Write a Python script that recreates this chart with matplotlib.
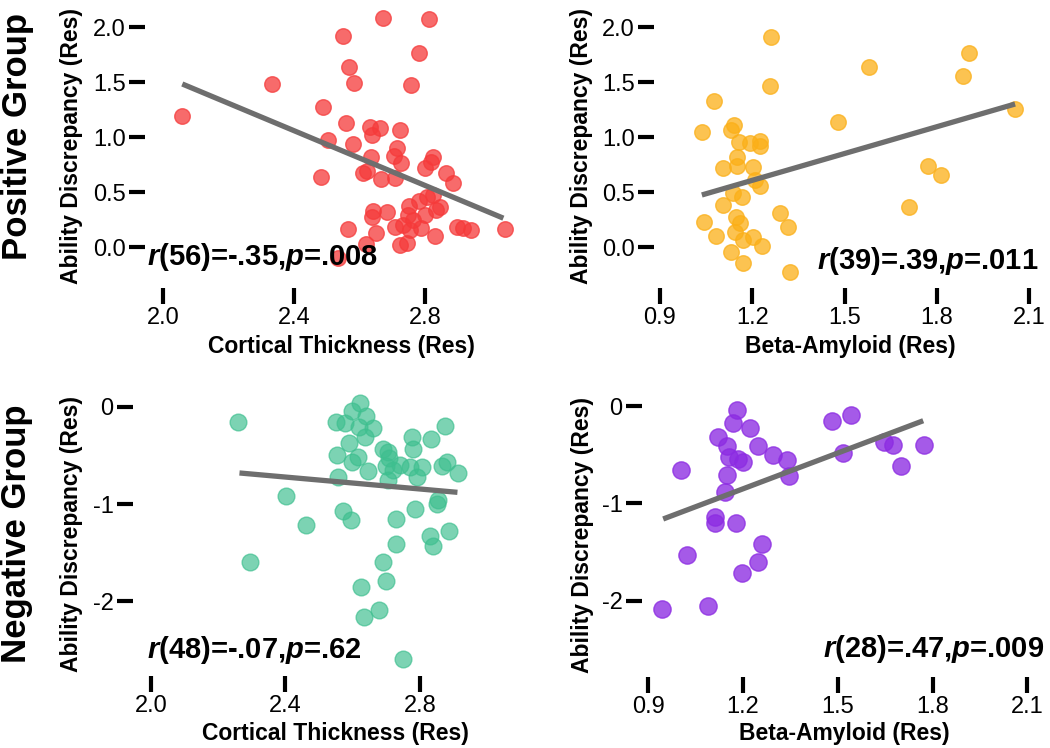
import numpy as np
import matplotlib
matplotlib.use("Agg")
import matplotlib.pyplot as plt

plt.rcParams['font.family'] = ['Liberation Sans', 'DejaVu Sans']
plt.rcParams['axes.unicode_minus'] = False
plt.rcParams['mathtext.fontset'] = 'custom'
plt.rcParams['mathtext.it'] = 'Liberation Sans:italic:bold'
plt.rcParams['mathtext.rm'] = 'Liberation Sans:bold'
plt.rcParams['mathtext.bf'] = 'Liberation Sans:bold'

# ---------------- data ----------------
# Positive group, cortical thickness
pos_ct_x = [2.056, 2.331, 2.550, 2.673, 2.813, 2.568, 2.584, 2.783, 2.758, 2.487,
            2.560, 2.505, 2.579, 2.481, 2.566, 2.534, 2.620, 2.632, 2.663, 2.637,
            2.724, 2.716, 2.634, 2.706, 2.727, 2.824, 2.819, 2.800, 2.865, 2.885,
            2.622, 2.612, 2.665, 2.709, 2.824, 2.806, 2.783, 2.752, 2.846, 2.834,
            2.800, 2.640, 2.685, 2.637, 2.749, 2.765, 2.897, 2.917, 2.940, 2.650,
            2.709, 2.734, 2.754, 2.787, 2.831, 2.724, 2.744, 3.045]
pos_ct_y = [1.194, 1.482, 1.921, 2.079, 2.070, 1.639, 1.488, 1.761, 1.473, 1.270,
            1.125, 0.973, 0.935, 0.636, 0.162, -0.100, 0.023, 1.094, 1.079, 1.018,
            1.064, 0.897, 0.815, 0.827, 0.761, 0.821, 0.775, 0.715, 0.675, 0.585,
            0.694, 0.675, 0.615, 0.624, 0.473, 0.452, 0.421, 0.373, 0.366, 0.336,
            0.291, 0.327, 0.321, 0.270, 0.291, 0.245, 0.185, 0.170, 0.155, 0.130,
            0.185, 0.200, 0.155, 0.170, 0.100, 0.018, 0.034, 0.161]
pos_ct_fit_x = [2.058, 3.040]
pos_ct_fit_y = [1.482, 0.262]

# Positive group, beta-amyloid
pos_ba_x = [1.260, 1.257, 1.075, 1.036, 1.141, 1.130, 1.158, 1.225, 1.225, 1.192,
            1.149, 1.106, 1.149, 1.203, 1.209, 1.225, 1.138, 1.166, 1.106, 1.044,
            1.081, 1.147, 1.160, 1.144, 1.171, 1.203, 1.232, 1.130, 1.171, 1.290,
            1.315, 1.322, 1.479, 1.580, 1.884, 1.905, 2.054, 1.770, 1.813, 1.710]
pos_ba_y = [1.906, 1.464, 1.330, 1.043, 1.109, 1.064, 0.957, 0.966, 0.921, 0.948,
            0.821, 0.715, 0.736, 0.725, 0.609, 0.555, 0.494, 0.457, 0.382, 0.230,
            0.103, 0.275, 0.215, 0.139, 0.064, 0.088, 0.012, -0.043, -0.143, 0.306,
            0.179, -0.225, 1.139, 1.634, 1.555, 1.766, 1.255, 0.739, 0.655, 0.366]
pos_ba_fit_x = [1.036, 2.054]
pos_ba_fit_y = [0.473, 1.300]

# Negative group, cortical thickness
neg_ct_x = [2.260, 2.295, 2.402, 2.461, 2.572, 2.594, 2.625, 2.635, 2.679, 2.691,
            2.699, 2.729, 2.729, 2.749, 2.786, 2.830, 2.840, 2.888, 2.853, 2.850,
            2.875, 2.833, 2.915, 2.865, 2.622, 2.597, 2.640, 2.551, 2.577, 2.620,
            2.660, 2.637, 2.590, 2.776, 2.779, 2.554, 2.597, 2.617, 2.647, 2.691,
            2.706, 2.709, 2.699, 2.721, 2.741, 2.771, 2.806, 2.791, 2.706, 2.557,
            2.880]
neg_ct_y = [-0.154, -1.593, -0.921, -1.216, -1.069, -1.161, -1.856, -2.158, -2.086, -1.599,
            -1.788, -1.150, -1.411, -2.593, -1.051, -1.326, -1.435, -1.281, -0.959, -1.000,
            -0.201, -0.332, -0.684, -0.606, 0.041, -0.041, -0.096, -0.154, -0.164, -0.206,
            -0.222, -0.308, -0.376, -0.308, -0.438, -0.496, -0.565, -0.514, -0.661, -0.438,
            -0.462, -0.530, -0.609, -0.651, -0.599, -0.623, -0.623, -0.726, -0.753, -0.726,
            -0.565]
neg_ct_fit_x = [2.263, 2.912]
neg_ct_fit_y = [-0.681, -0.880]

# Negative group, beta-amyloid
neg_ba_x = [1.180, 1.169, 1.222, 1.120, 1.148, 1.248, 1.296, 1.340, 1.155, 1.185,
            1.201, 1.003, 1.148, 1.345, 1.143, 1.111, 1.111, 1.178, 1.259, 1.246,
            1.196, 1.022, 0.942, 1.090, 1.480, 1.540, 1.517, 1.647, 1.675, 1.699,
            1.773]
neg_ba_y = [-0.038, -0.178, -0.226, -0.316, -0.408, -0.408, -0.504, -0.555, -0.527, -0.545,
            -0.579, -0.658, -0.709, -0.716, -0.887, -1.144, -1.202, -1.206, -1.418, -1.606,
            -1.716, -1.531, -2.086, -2.052, -0.157, -0.089, -0.483, -0.367, -0.398, -0.620,
            -0.401]
neg_ba_fit_x = [0.947, 1.770]
neg_ba_fit_y = [-1.161, -0.151]

ct_ticks = [2.0, 2.4, 2.8]
ct_labels = ["2.0", "2.4", "2.8"]
ba_ticks = [0.9, 1.2, 1.5, 1.8, 2.1]
ba_labels = ["0.9", "1.2", "1.5", "1.8", "2.1"]
pos_yticks = [0.0, 0.5, 1.0, 1.5, 2.0]
pos_ylabels = ["0.0", "0.5", "1.0", "1.5", "2.0"]
neg_yticks = [-2, -1, 0]
neg_ylabels = ["-2", "-1", "0"]

stats_text = [r"$r$(56)=-.35,$p$=.008", r"$r$(39)=.39,$p$=.011",
              r"$r$(48)=-.07,$p$=.62", r"$r$(28)=.47,$p$=.009"]
row_labels = ["Positive Group", "Negative Group"]
x_titles = ["Cortical Thickness (Res)", "Beta-Amyloid (Res)"]
y_title = "Ability Discrepancy (Res)"

# ---------------- layout ----------------
W, H = 1050, 748
fig = plt.figure(figsize=(W / 100, H / 100), dpi=100)
fig.patch.set_facecolor('white')

def add_ax(l, t, r, b):
    return fig.add_axes([l / W, 1 - b / H, (r - l) / W, (b - t) / H])

panels = [
    dict(rect=(145, 5, 531, 288), xlim=(1.944, 3.1245), ylim=(-0.3727, 2.2),
         x=pos_ct_x, y=pos_ct_y, fx=pos_ct_fit_x, fy=pos_ct_fit_y,
         color='#F53A3A', alpha=0.75, s=125,
         xt=ct_ticks, xl=ct_labels, yt=pos_yticks, yl=pos_ylabels,
         xtitle=x_titles[0], ylab_x=83, xlab_y=335,
         txt=stats_text[0], tx=147, ty=257, ha='left'),
    dict(rect=(654, 5, 1040, 288), xlim=(0.8805, 2.135), ylim=(-0.3727, 2.2),
         x=pos_ba_x, y=pos_ba_y, fx=pos_ba_fit_x, fy=pos_ba_fit_y,
         color='#FBAF17', alpha=0.75, s=125,
         xt=ba_ticks, xl=ba_labels, yt=pos_yticks, yl=pos_ylabels,
         xtitle=x_titles[1], ylab_x=593, xlab_y=335,
         txt=stats_text[1], tx=1038, ty=261, ha='right'),
    dict(rect=(133, 393, 531, 676), xlim=(1.946, 3.131), ylim=(-2.768, 0.141),
         x=neg_ct_x, y=neg_ct_y, fx=neg_ct_fit_x, fy=neg_ct_fit_y,
         color='#3EBF8F', alpha=0.68, s=145,
         xt=ct_ticks, xl=ct_labels, yt=neg_yticks, yl=neg_ylabels,
         xtitle=x_titles[0], ylab_x=83, xlab_y=722,
         txt=stats_text[2], tx=147, ty=650, ha='left'),
    dict(rect=(642, 393, 1040, 677), xlim=(0.880, 2.1396), ylim=(-2.785, 0.134),
         x=neg_ba_x, y=neg_ba_y, fx=neg_ba_fit_x, fy=neg_ba_fit_y,
         color='#8C2BE2', alpha=0.78, s=155,
         xt=ba_ticks, xl=ba_labels, yt=neg_yticks, yl=neg_ylabels,
         xtitle=x_titles[1], ylab_x=594, xlab_y=722,
         txt=stats_text[3], tx=1044, ty=649, ha='right'),
]

for p in panels:
    ax = add_ax(*p['rect'])
    ax.set_facecolor('none')
    ax.scatter(p['x'], p['y'], s=p['s'], color=p['color'], alpha=p['alpha'],
               edgecolors=p['color'], linewidths=1.0, zorder=2)
    ax.plot(p['fx'], p['fy'], color='#6E6E6E', lw=3.8, solid_capstyle='butt', zorder=3)
    ax.set_xlim(*p['xlim'])
    ax.set_ylim(*p['ylim'])
    for sp in ax.spines.values():
        sp.set_visible(False)
    ax.set_xticks(p['xt'])
    ax.set_xticklabels(p['xl'])
    ax.set_yticks(p['yt'])
    ax.set_yticklabels(p['yl'])
    ax.tick_params(axis='both', direction='out', length=11.5, width=3.0,
                   color='black', labelsize=17, pad=2.5)
    ax.set_xlabel(p['xtitle'], fontsize=16.5, fontweight='bold')
    ax.set_ylabel(y_title, fontsize=16.5, fontweight='bold')
    ax.xaxis.set_label_coords((p['rect'][0] + p['rect'][2]) / 2 / W + 0.003,
                              1 - p['xlab_y'] / H, transform=fig.transFigure)
    ax.yaxis.set_label_coords(p['ylab_x'] / W, 1 - (p['rect'][1] + p['rect'][3]) / 2 / H,
                              transform=fig.transFigure)
    fig.text(p['tx'] / W, 1 - p['ty'] / H, p['txt'], fontsize=21, fontweight='bold',
             ha=p['ha'], va='center', zorder=5)

fig.text(18 / W, 1 - 137 / H, row_labels[0], rotation=90, fontsize=25,
         fontweight='bold', ha='center', va='center')
fig.text(17 / W, 1 - 534 / H, row_labels[1], rotation=90, fontsize=25,
         fontweight='bold', ha='center', va='center')

fig.savefig('out.png', dpi=100, facecolor='white')
